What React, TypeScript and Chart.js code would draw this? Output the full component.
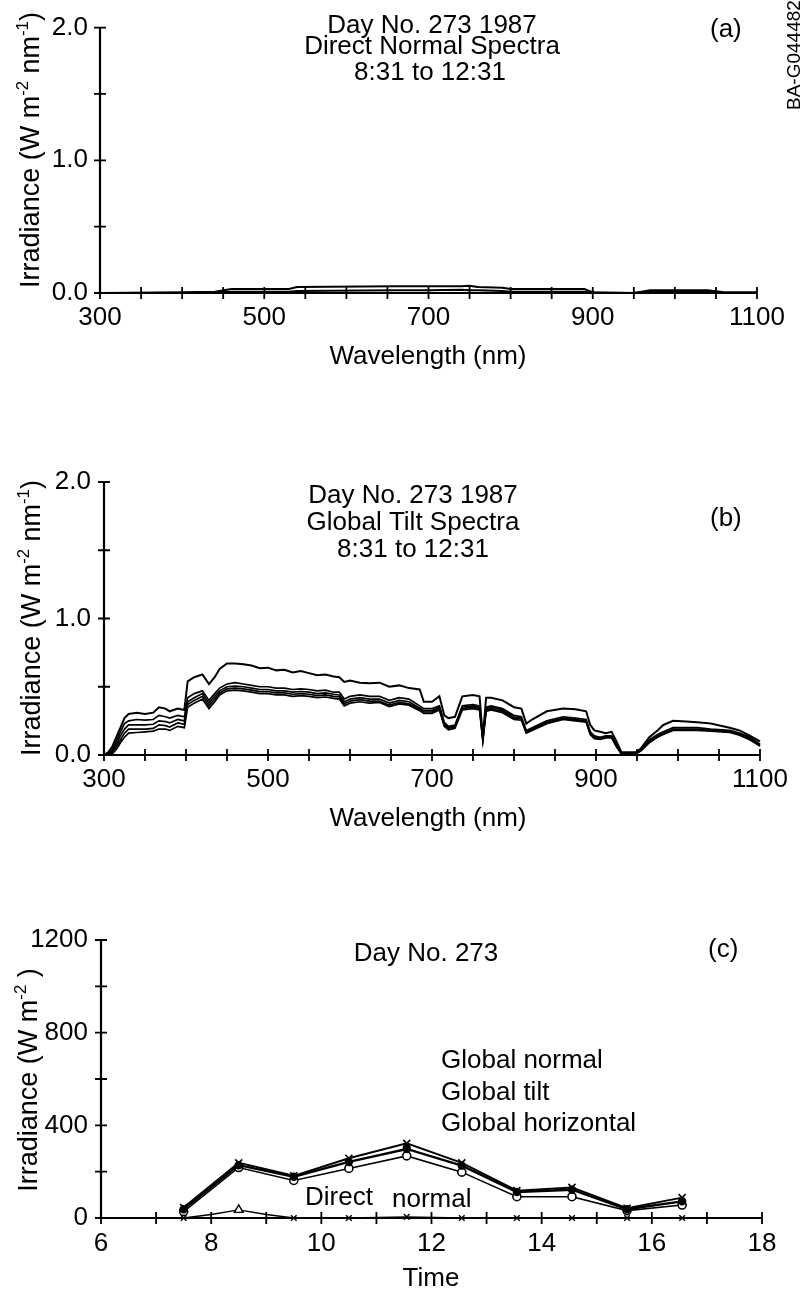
import React, { useEffect, useRef } from "react";
import { Chart, registerables } from "chart.js";

Chart.register(...registerables);

const FONT = '"Liberation Sans", Arial, Helvetica, sans-serif';
const PAGE_W = 803;
const PAGE_H = 1291;

// ---------------- data ----------------
// shared spectral axis ticks
const wavelengthTicks = [300, 500, 700, 900, 1100];
const wavelengthMinor = [300, 350, 400, 450, 500, 550, 600, 650, 700, 750, 800, 850, 900, 950, 1000, 1050, 1100];
const spectraYTicks = [0, 1, 2];
const spectraYMinor = [0, 0.5, 1, 1.5, 2];

// (a) Direct normal spectra
const dnWavelength = [300, 400, 440, 460, 530, 540, 660, 700, 740, 750, 760, 790, 800, 890, 900, 950, 970, 1040, 1060, 1100];
const directNormalA = [0, 0.005, 0.01, 0.03, 0.03, 0.045, 0.05, 0.05, 0.05, 0.055, 0.045, 0.04, 0.03, 0.03, 0.005, 0.0, 0.02, 0.02, 0.005, 0.005];
const directNormalB = [0, 0, 0.005, 0.01, 0.01, 0.015, 0.02, 0.02, 0.025, 0.02, 0.02, 0.015, 0.01, 0.01, 0.0, 0.0, 0.01, 0.01, 0.0, 0.0];

// (b) Global tilt spectra
const gtWavelength = [
  300, 305, 310, 315, 320, 325, 330, 340, 350, 360,
  367, 375, 380, 390, 398, 402, 410, 420, 428, 435,
  441, 450, 460, 470, 480, 490, 500, 510, 520, 530,
  540, 550, 560, 570, 580, 587, 593, 600, 612, 624,
  636, 648, 660, 672, 685, 690, 700, 709, 715, 720,
  728, 737, 750, 758, 762, 766, 772, 786, 800, 809,
  815, 822, 840, 860, 875, 888, 893, 898, 905, 912,
  919, 925, 931, 940, 949, 955, 965, 975, 982, 994,
  1010, 1023, 1040, 1063, 1075, 1088, 1100,
];
const globalTilt0831 = [
  0.0, 0.02, 0.06, 0.13, 0.2, 0.27, 0.3, 0.31, 0.3, 0.31,
  0.35, 0.34, 0.32, 0.34, 0.33, 0.54, 0.57, 0.59, 0.52, 0.57,
  0.63, 0.67, 0.67, 0.665, 0.655, 0.635, 0.64, 0.62, 0.625, 0.605,
  0.615, 0.6, 0.585, 0.59, 0.575, 0.57, 0.535, 0.545, 0.53, 0.525,
  0.53, 0.5, 0.51, 0.49, 0.48, 0.39, 0.39, 0.43, 0.29, 0.27,
  0.28, 0.43, 0.44, 0.43, 0.13, 0.42, 0.42, 0.4, 0.35, 0.34,
  0.23, 0.26, 0.32, 0.34, 0.335, 0.32, 0.22, 0.18, 0.17, 0.16,
  0.17, 0.1, 0.02, 0.02, 0.02, 0.05, 0.13, 0.18, 0.22, 0.25,
  0.245, 0.24, 0.23, 0.2, 0.18, 0.14, 0.1,
];
const globalTilt0931 = [
  0, 0.01, 0.04, 0.1, 0.17, 0.23, 0.25, 0.26, 0.255, 0.26,
  0.29, 0.28, 0.27, 0.29, 0.28, 0.42, 0.45, 0.47, 0.4, 0.45,
  0.49, 0.52, 0.53, 0.52, 0.51, 0.5, 0.5, 0.49, 0.49, 0.48,
  0.485, 0.48, 0.47, 0.475, 0.46, 0.46, 0.41, 0.43, 0.44, 0.43,
  0.43, 0.4, 0.42, 0.41, 0.36, 0.34, 0.34, 0.36, 0.24, 0.21,
  0.22, 0.36, 0.37, 0.36, 0.13, 0.35, 0.36, 0.34, 0.29, 0.28,
  0.18, 0.2, 0.25, 0.28, 0.27, 0.26, 0.17, 0.14, 0.13, 0.14,
  0.14, 0.08, 0.01, 0.01, 0.02, 0.04, 0.11, 0.15, 0.17, 0.2,
  0.2, 0.2, 0.19, 0.18, 0.16, 0.13, 0.08,
];
const globalTilt1031 = [
  0, 0.01, 0.03, 0.08, 0.14, 0.19, 0.22, 0.22, 0.22, 0.225,
  0.25, 0.245, 0.235, 0.26, 0.25, 0.39, 0.42, 0.45, 0.38, 0.43,
  0.47, 0.5, 0.505, 0.5, 0.49, 0.48, 0.48, 0.47, 0.47, 0.46,
  0.465, 0.46, 0.45, 0.455, 0.445, 0.44, 0.39, 0.41, 0.42, 0.41,
  0.41, 0.38, 0.4, 0.39, 0.345, 0.325, 0.325, 0.35, 0.23, 0.2,
  0.21, 0.35, 0.36, 0.35, 0.12, 0.34, 0.35, 0.33, 0.28, 0.27,
  0.17, 0.19, 0.24, 0.27, 0.26, 0.25, 0.16, 0.13, 0.125, 0.135,
  0.135, 0.07, 0.01, 0.01, 0.015, 0.04, 0.1, 0.14, 0.16, 0.19,
  0.19, 0.19, 0.185, 0.175, 0.155, 0.12, 0.075,
];
const globalTilt1131 = [
  0, 0.005, 0.02, 0.06, 0.11, 0.16, 0.19, 0.19, 0.19, 0.195,
  0.22, 0.215, 0.205, 0.235, 0.225, 0.37, 0.4, 0.43, 0.36, 0.41,
  0.455, 0.485, 0.49, 0.485, 0.475, 0.465, 0.465, 0.455, 0.455, 0.445,
  0.45, 0.445, 0.435, 0.44, 0.43, 0.425, 0.375, 0.395, 0.405, 0.395,
  0.395, 0.365, 0.385, 0.375, 0.335, 0.315, 0.315, 0.34, 0.22, 0.195,
  0.205, 0.34, 0.35, 0.34, 0.11, 0.33, 0.34, 0.32, 0.27, 0.265,
  0.165, 0.185, 0.235, 0.265, 0.255, 0.245, 0.155, 0.125, 0.12, 0.13,
  0.13, 0.065, 0.01, 0.008, 0.012, 0.035, 0.095, 0.135, 0.155, 0.185,
  0.185, 0.185, 0.18, 0.17, 0.15, 0.115, 0.07,
];
const globalTilt1231 = [
  0, 0, 0.01, 0.04, 0.09, 0.13, 0.16, 0.165, 0.17, 0.175,
  0.19, 0.19, 0.18, 0.21, 0.2, 0.35, 0.38, 0.41, 0.34, 0.39,
  0.44, 0.47, 0.475, 0.47, 0.46, 0.45, 0.45, 0.44, 0.44, 0.43,
  0.435, 0.43, 0.42, 0.425, 0.415, 0.41, 0.36, 0.38, 0.39, 0.38,
  0.385, 0.355, 0.375, 0.365, 0.325, 0.305, 0.305, 0.33, 0.21, 0.185,
  0.195, 0.33, 0.34, 0.33, 0.1, 0.32, 0.33, 0.31, 0.26, 0.255,
  0.16, 0.18, 0.23, 0.26, 0.25, 0.24, 0.15, 0.12, 0.115, 0.125,
  0.125, 0.06, 0.008, 0.006, 0.01, 0.03, 0.09, 0.13, 0.15, 0.18,
  0.18, 0.18, 0.175, 0.165, 0.145, 0.11, 0.065,
];

// (c) Broadband irradiance vs time
const timeTicks = [6, 8, 10, 12, 14, 16, 18];
const timeMinor = [6, 7, 8, 9, 10, 11, 12, 13, 14, 15, 16, 17, 18];
const irrTicks = [0, 400, 800, 1200];
const irrMinor = [0, 200, 400, 600, 800, 1000, 1200];
const hours = [7.5, 8.5, 9.5, 10.5, 11.55, 12.55, 13.55, 14.55, 15.55, 16.55];
const globalNormal = [45, 238, 182, 258, 322, 238, 118, 132, 42, 88];
const globalTiltBB = [38, 228, 178, 242, 298, 226, 112, 122, 38, 72];
const globalHorizontal = [28, 218, 162, 214, 268, 198, 92, 92, 32, 56];
const directHours = [7.5, 8.0, 8.5, 9.0, 9.5, 10.5, 11.55, 12.55, 13.55, 14.55, 15.55, 16.55];
const directNormal = [0, 15, 35, 15, 0, 0, 5, 0, 0, 0, 0, 0];
const directMarkers = ["crossRot", "crossRot", "triangle", "crossRot", "crossRot", "crossRot", "crossRot", "crossRot", "crossRot", "crossRot", "crossRot", "crossRot"];
const directMarkerSize = [4, 0, 5, 0, 4, 4, 4, 4, 4, 4, 4, 4];

// ---------------- drawing helpers ----------------
type Seg = { t: string; sup?: boolean };
type Label =
  | { kind: "text"; s: string; x: number; y: number; align?: CanvasTextAlign; size?: number }
  | { kind: "rot"; segs: Seg[]; x: number; y: number; size: number; align: "center" | "left" };

function drawRich(ctx: CanvasRenderingContext2D, segs: Seg[], x: number, y: number, size: number, align: "center" | "left") {
  ctx.save();
  ctx.translate(x, y);
  ctx.rotate(-Math.PI / 2);
  const f = (s: number) => `${s}px ${FONT}`;
  let total = 0;
  const widths = segs.map((sg) => {
    ctx.font = f(sg.sup ? size * 0.62 : size);
    const w = ctx.measureText(sg.t).width;
    total += w;
    return w;
  });
  let cx = align === "center" ? -total / 2 : 0;
  ctx.textAlign = "left";
  ctx.textBaseline = "alphabetic";
  ctx.fillStyle = "#000";
  segs.forEach((sg, i) => {
    ctx.font = f(sg.sup ? size * 0.62 : size);
    ctx.fillText(sg.t, cx, sg.sup ? -size * 0.42 : 0);
    cx += widths[i];
  });
  ctx.restore();
}

interface PanelSpec {
  top: number;
  height: number;
  area: { left: number; right: number; top: number; bottom: number };
  datasets: any[];
  xMin: number;
  xMax: number;
  yMin: number;
  yMax: number;
  xTicks: number[];
  xMinor: number[];
  yTicks: number[];
  yMinor: number[];
  xFmt: (v: number) => string;
  yFmt: (v: number) => string;
  xPad: number;
  yPad: number;
  labels: Label[];
}

function buildConfig(spec: PanelSpec): any {
  const deco = {
    id: "deco",
    afterDraw(chart: any) {
      const ctx: CanvasRenderingContext2D = chart.ctx;
      const xs = chart.scales.x;
      const ys = chart.scales.y;
      const a = chart.chartArea;
      ctx.save();
      ctx.strokeStyle = "#000";
      ctx.lineWidth = 2.2;
      ctx.beginPath();
      ctx.moveTo(a.left, a.top);
      ctx.lineTo(a.left, a.bottom + 1);
      ctx.moveTo(a.left - 1, a.bottom);
      ctx.lineTo(a.right, a.bottom);
      ctx.stroke();
      ctx.lineWidth = 1.8;
      ctx.beginPath();
      spec.xMinor.forEach((v) => {
        const px = xs.getPixelForValue(v);
        ctx.moveTo(px, a.bottom - 6);
        ctx.lineTo(px, a.bottom + 6);
      });
      spec.yMinor.forEach((v) => {
        const py = ys.getPixelForValue(v);
        ctx.moveTo(a.left - 6, py);
        ctx.lineTo(a.left + 6, py);
      });
      ctx.stroke();
      ctx.translate(0, -spec.top);
      spec.labels.forEach((l) => {
        if (l.kind === "text") {
          ctx.font = `${l.size ?? 26}px ${FONT}`;
          ctx.textAlign = l.align ?? "left";
          ctx.textBaseline = "alphabetic";
          ctx.fillStyle = "#000";
          ctx.fillText(l.s, l.x, l.y);
        } else {
          drawRich(ctx, l.segs, l.x, l.y, l.size, l.align);
        }
      });
      ctx.restore();
    },
  };
  const tickFont = { family: FONT, size: 26 };
  return {
    type: "line",
    data: { datasets: spec.datasets },
    plugins: [deco],
    options: {
      responsive: false,
      maintainAspectRatio: false,
      animation: false,
      events: [],
      layout: {
        padding: { left: 0, top: spec.area.top - spec.top, right: PAGE_W - spec.area.right, bottom: 0 },
      },
      plugins: { legend: { display: false }, tooltip: { enabled: false }, title: { display: false } },
      elements: { line: { tension: 0 } },
      scales: {
        x: {
          type: "linear",
          min: spec.xMin,
          max: spec.xMax,
          grid: { display: false, drawTicks: false },
          border: { display: false },
          ticks: {
            color: "#000",
            font: tickFont,
            padding: spec.xPad,
            autoSkip: false,
            maxRotation: 0,
            callback: (v: number) => spec.xFmt(v),
          },
          afterBuildTicks: (ax: any) => {
            ax.ticks = spec.xTicks.map((v) => ({ value: v }));
          },
          afterFit: (ax: any) => {
            ax.height = spec.top + spec.height - spec.area.bottom;
          },
        },
        y: {
          type: "linear",
          min: spec.yMin,
          max: spec.yMax,
          grid: { display: false, drawTicks: false },
          border: { display: false },
          ticks: {
            color: "#000",
            font: tickFont,
            padding: spec.yPad,
            autoSkip: false,
            callback: (v: number) => spec.yFmt(v),
          },
          afterBuildTicks: (ax: any) => {
            ax.ticks = spec.yTicks.map((v) => ({ value: v }));
          },
          afterFit: (ax: any) => {
            ax.width = spec.area.left;
          },
        },
      },
    },
  };
}

function pts(xs: number[], ys: number[]) {
  return xs.map((x, i) => ({ x, y: ys[i] }));
}

function spectrumLine(xs: number[], ys: number[], width: number) {
  return {
    data: pts(xs, ys),
    borderColor: "#000",
    borderWidth: width,
    pointRadius: 0,
    fill: false,
    clip: 6,
  };
}

const irrSpectralTitle: Seg[] = [
  { t: "Irradiance (W m" },
  { t: "-2", sup: true },
  { t: " nm" },
  { t: "-1", sup: true },
  { t: ")" },
];

const panelA: PanelSpec = {
  top: 0,
  height: 400,
  area: { left: 100, right: 757, top: 20, bottom: 293 },
  datasets: [spectrumLine(dnWavelength, directNormalA, 2), spectrumLine(dnWavelength, directNormalB, 2)],
  xMin: 300,
  xMax: 1100,
  yMin: 0,
  yMax: 2,
  xTicks: wavelengthTicks,
  xMinor: wavelengthMinor,
  yTicks: spectraYTicks,
  yMinor: spectraYMinor,
  xFmt: (v) => String(v),
  yFmt: (v) => v.toFixed(1),
  xPad: 9,
  yPad: 12,
  labels: [
    { kind: "text", s: "Day No. 273 1987", x: 432, y: 33, align: "center" },
    { kind: "text", s: "Direct Normal Spectra", x: 432, y: 54, align: "center" },
    { kind: "text", s: "8:31 to 12:31", x: 430, y: 80, align: "center" },
    { kind: "text", s: "(a)", x: 710, y: 37 },
    { kind: "text", s: "Wavelength (nm)", x: 428, y: 364, align: "center" },
    { kind: "rot", segs: irrSpectralTitle, x: 39, y: 150, size: 27, align: "center" },
    { kind: "rot", segs: [{ t: "BA-G0444822" }], x: 800, y: 110, size: 19, align: "left" },
  ],
};

const panelB: PanelSpec = {
  top: 400,
  height: 460,
  area: { left: 104, right: 760, top: 482, bottom: 755 },
  datasets: [
    spectrumLine(gtWavelength, globalTilt0831, 2),
    spectrumLine(gtWavelength, globalTilt0931, 1.7),
    spectrumLine(gtWavelength, globalTilt1031, 1.7),
    spectrumLine(gtWavelength, globalTilt1131, 1.7),
    spectrumLine(gtWavelength, globalTilt1231, 1.7),
  ],
  xMin: 300,
  xMax: 1100,
  yMin: 0,
  yMax: 2,
  xTicks: wavelengthTicks,
  xMinor: wavelengthMinor,
  yTicks: spectraYTicks,
  yMinor: spectraYMinor,
  xFmt: (v) => String(v),
  yFmt: (v) => v.toFixed(1),
  xPad: 9,
  yPad: 13,
  labels: [
    { kind: "text", s: "Day No. 273 1987", x: 413, y: 503, align: "center" },
    { kind: "text", s: "Global Tilt Spectra", x: 413, y: 530, align: "center" },
    { kind: "text", s: "8:31 to 12:31", x: 413, y: 557, align: "center" },
    { kind: "text", s: "(b)", x: 710, y: 526 },
    { kind: "text", s: "Wavelength (nm)", x: 428, y: 826, align: "center" },
    { kind: "rot", segs: irrSpectralTitle, x: 40, y: 618, size: 27, align: "center" },
  ],
};

const panelC: PanelSpec = {
  top: 860,
  height: 431,
  area: { left: 101, right: 762, top: 940, bottom: 1218 },
  datasets: [
    {
      data: pts(hours, globalNormal),
      borderColor: "#000",
      borderWidth: 2,
      pointStyle: "crossRot",
      pointRadius: 5,
      pointBorderWidth: 1.6,
      pointBorderColor: "#000",
      fill: false,
      clip: false,
    },
    {
      data: pts(hours, globalTiltBB),
      borderColor: "#000",
      borderWidth: 2.4,
      pointStyle: "circle",
      pointRadius: 3,
      pointBackgroundColor: "#000",
      pointBorderColor: "#000",
      fill: false,
      clip: false,
    },
    {
      data: pts(hours, globalHorizontal),
      borderColor: "#000",
      borderWidth: 1.6,
      pointStyle: "circle",
      pointRadius: 4,
      pointBorderWidth: 1.6,
      pointBackgroundColor: "#fff",
      pointBorderColor: "#000",
      fill: false,
      clip: false,
    },
    {
      data: pts(directHours, directNormal),
      borderColor: "#000",
      borderWidth: 1.4,
      pointStyle: directMarkers,
      pointRadius: directMarkerSize,
      pointBorderWidth: 1.4,
      pointBackgroundColor: "#fff",
      pointBorderColor: "#000",
      fill: false,
      clip: false,
    },
  ],
  xMin: 6,
  xMax: 18,
  yMin: 0,
  yMax: 1200,
  xTicks: timeTicks,
  xMinor: timeMinor,
  yTicks: irrTicks,
  yMinor: irrMinor,
  xFmt: (v) => String(v),
  yFmt: (v) => String(v),
  xPad: 10,
  yPad: 13,
  labels: [
    { kind: "text", s: "Day No. 273", x: 426, y: 961, align: "center" },
    { kind: "text", s: "(c)", x: 708, y: 957 },
    { kind: "text", s: "Global normal", x: 441, y: 1068 },
    { kind: "text", s: "Global tilt", x: 441, y: 1100 },
    { kind: "text", s: "Global horizontal", x: 441, y: 1131 },
    { kind: "text", s: "Direct", x: 305, y: 1205 },
    { kind: "text", s: "normal", x: 392, y: 1207 },
    { kind: "text", s: "Time", x: 431, y: 1286, align: "center" },
    {
      kind: "rot",
      segs: [{ t: "Irradiance (W m" }, { t: "-2", sup: true }, { t: " )" }],
      x: 37,
      y: 1080,
      size: 27,
      align: "center",
    },
  ],
};

function Panel({ spec }: { spec: PanelSpec }) {
  const ref = useRef<HTMLCanvasElement | null>(null);
  useEffect(() => {
    if (!ref.current) return;
    const chart = new Chart(ref.current, buildConfig(spec));
    return () => chart.destroy();
  }, [spec]);
  return (
    <canvas
      ref={ref}
      width={PAGE_W}
      height={spec.height}
      style={{ position: "absolute", left: 0, top: spec.top, width: PAGE_W, height: spec.height, display: "block" }}
    />
  );
}

export default function App() {
  return (
    <div style={{ position: "absolute", left: 0, top: 0, width: PAGE_W, height: PAGE_H, background: "#fff", overflow: "hidden" }}>
      <Panel spec={panelA} />
      <Panel spec={panelB} />
      <Panel spec={panelC} />
    </div>
  );
}
